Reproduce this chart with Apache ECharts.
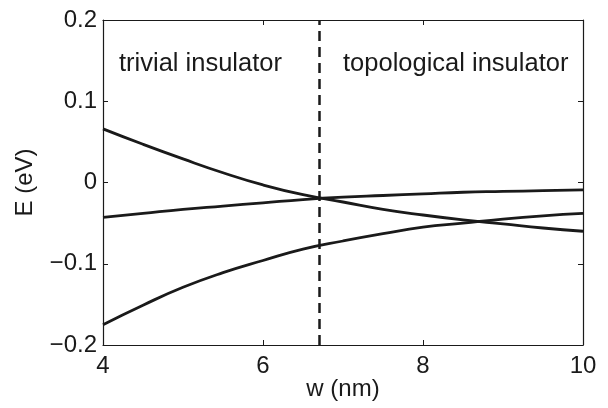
<!DOCTYPE html>
<html>
<head>
<meta charset="utf-8">
<script src="https://cdn.jsdelivr.net/npm/echarts@6/dist/echarts.min.js"></script>
<style>
  html, body { margin: 0; padding: 0; background: #fff; }
  #chart { width: 608px; height: 408px; }
</style>
</head>
<body>
<div id="chart"></div>
<script>
// well width (nm) and band energies (eV)
var wValues = [4, 4.5, 5, 5.5, 6, 6.5, 7, 7.5, 8, 8.5, 9, 9.5, 10];
var bandA = [0.066, 0.047, 0.029, 0.012, -0.003, -0.015, -0.024, -0.033, -0.040, -0.046, -0.051, -0.056, -0.060];
var bandB = [-0.043, -0.038, -0.033, -0.029, -0.025, -0.021, -0.018, -0.016, -0.014, -0.012, -0.011, -0.010, -0.009];
var bandC = [-0.175, -0.151, -0.129, -0.111, -0.096, -0.082, -0.072, -0.063, -0.055, -0.050, -0.045, -0.041, -0.038];
var wCritical = 6.7;

var font = '"Liberation Sans", Arial, sans-serif';
var ink = '#1a1a1a';

function pairs(ys) {
    return wValues.map(function (w, i) { return [w, ys[i]]; });
}
function bandSeries(ys) {
    return {
        type: 'line',
        data: pairs(ys),
        smooth: 0.5,
        showSymbol: false,
        lineStyle: { color: ink, width: 2.8 },
        silent: true
    };
}
function yLabel(v) {
    if (Math.abs(v) < 1e-9) return '0';
    var s = v.toFixed(1);
    return v < 0 ? '\u2212' + s.slice(1) : s;
}

var axisCommon = {
    axisLine: { show: true, onZero: false, lineStyle: { color: ink, width: 1.2 } },
    axisTick: { show: true, inside: true, length: 5, lineStyle: { color: ink, width: 1 } },
    splitLine: { show: false }
};

var chart = echarts.init(document.getElementById('chart'));
chart.setOption({
    animation: false,
    grid: { left: 103, right: 25, top: 20, bottom: 63, containLabel: false, outerBoundsMode: 'none' },
    xAxis: [
        Object.assign({
            type: 'value', min: 4, max: 10, interval: 2, position: 'bottom',
            name: 'w (nm)', nameLocation: 'middle', nameGap: 32, nameMoveOverlap: false,
            nameTextStyle: { fontFamily: font, fontSize: 24, color: ink },
            axisLabel: { fontFamily: font, fontSize: 24, color: ink, margin: 9 }
        }, axisCommon),
        Object.assign({
            type: 'value', min: 4, max: 10, interval: 2, position: 'top',
            axisLabel: { show: false }
        }, axisCommon)
    ],
    yAxis: [
        Object.assign({
            type: 'value', min: -0.2, max: 0.2, interval: 0.1, position: 'left',
            name: 'E (eV)', nameLocation: 'middle', nameGap: 66, nameRotate: 90,
            nameTextStyle: { fontFamily: font, fontSize: 24, color: ink },
            axisLabel: { fontFamily: font, fontSize: 24, color: ink, margin: 6, formatter: yLabel }
        }, axisCommon),
        Object.assign({
            type: 'value', min: -0.2, max: 0.2, interval: 0.1, position: 'right',
            axisLabel: { show: false }
        }, axisCommon)
    ],
    series: [
        bandSeries(bandA),
        bandSeries(bandB),
        Object.assign(bandSeries(bandC), {
            markLine: {
                silent: true,
                symbol: 'none',
                label: { show: false },
                lineStyle: { color: ink, width: 2.5, type: [10, 6] },
                data: [{ xAxis: wCritical }]
            }
        })
    ],
    graphic: [
        { type: 'text', left: 119, top: 51,
          style: { text: 'trivial insulator', font: '25.5px ' + font, fill: ink } },
        { type: 'text', left: 343, top: 51,
          style: { text: 'topological insulator', font: '25.5px ' + font, fill: ink } }
    ]
});
</script>
</body>
</html>
